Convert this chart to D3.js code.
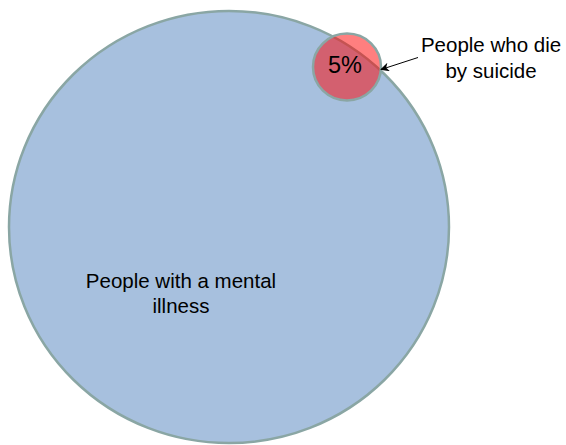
<!DOCTYPE html>
<html>
<head>
<meta charset="utf-8">
<script src="https://cdn.jsdelivr.net/npm/d3@7"></script>
<style>
    body { margin: 0; background: #fff; }
    text { font-family: "Liberation Sans", Arial, sans-serif; fill: #000; }
</style>
</head>
<body>
<div id="chart"></div>
<script>
var width = 566;
var height = 445;

// DATA
var SETS = ['People with a mental illness', 'People who die by suicide'];
var SET_LINES = [['People with a mental', 'illness'], ['People who die', 'by suicide']];
var SET_AREA = [1, 0.0239];     // relative area of each circle
var SHARE_LABEL = ['5%'];

var COLOR_BIG = '#4f81bd';
var COLOR_SMALL = '#ff0000';
var COLOR_STROKE = '#8aa6a4';
var Y_SQUASH = 0.982;

var r = d3.scaleSqrt()
    .domain([0, 1])
    .range([0, 220]);

// circle centres
var centers = [[229, 227], [347, 67]];

var svg = d3.select('#chart')
    .append('svg')
    .attr('width', width)
    .attr('height', height);

svg.append('defs').append('marker')
    .attr('id', 'arrow')
    .attr('viewBox', '0 0 10 10')
    .attr('refX', 9)
    .attr('refY', 5)
    .attr('markerWidth', 9)
    .attr('markerHeight', 9)
    .attr('markerUnits', 'userSpaceOnUse')
    .attr('orient', 'auto')
    .append('path')
        .attr('d', 'M0,0 L10,5 L0,10 L3,5 Z')
        .attr('fill', '#000');

svg.selectAll('ellipse.set')
    .data(SETS)
    .enter().append('ellipse')
    .attr('class', 'set')
    .attr('cx', function (d, i) { return centers[i][0]; })
    .attr('cy', function (d, i) { return centers[i][1]; })
    .attr('rx', function (d, i) { return r(SET_AREA[i]); })
    .attr('ry', function (d, i) { return r(SET_AREA[i]) * Y_SQUASH; })
    .attr('fill', function (d, i) { return i == 0 ? COLOR_BIG : COLOR_SMALL; })
    .attr('fill-opacity', 0.5)
    .attr('stroke', COLOR_STROKE)
    .attr('stroke-width', 2.5);

// big label inside the big circle
var big = svg.append('text')
    .attr('text-anchor', 'middle')
    .style('font-size', '20.5px');
big.selectAll('tspan')
    .data(SET_LINES[0])
    .enter().append('tspan')
    .attr('x', 181)
    .attr('y', function (d, i) { return 288 + i * 24.5; })
    .text(function (d) { return d; });

// share inside the small circle
svg.append('text')
    .attr('x', 345)
    .attr('y', 73)
    .attr('text-anchor', 'middle')
    .style('font-size', '23.5px')
    .text(SHARE_LABEL[0]);

// callout for the small circle
var callout = svg.append('text')
    .attr('text-anchor', 'middle')
    .style('font-size', '20.5px');
callout.selectAll('tspan')
    .data(SET_LINES[1])
    .enter().append('tspan')
    .attr('x', 491)
    .attr('y', function (d, i) { return 52 + i * 26; })
    .text(function (d) { return d; });

var edge = centers[1][0] + r(SET_AREA[1]);
svg.append('line')
    .attr('x1', 418)
    .attr('y1', 57.5)
    .attr('x2', edge)
    .attr('y2', 69.5)
    .attr('stroke', '#000')
    .attr('stroke-width', 1)
    .attr('marker-end', 'url(#arrow)');
</script>
</body>
</html>
